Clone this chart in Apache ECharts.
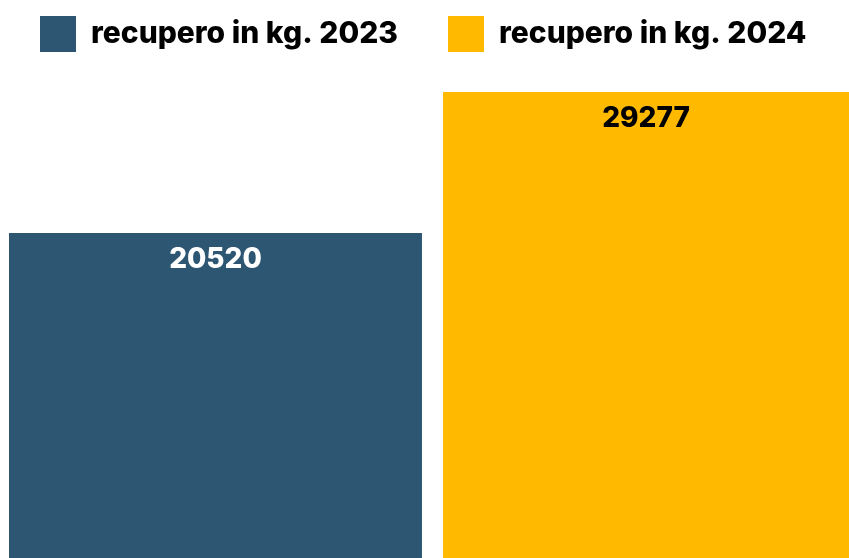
<!DOCTYPE html>
<html>
<head>
    <meta charset="utf-8">
    <title>recupero</title>
    <script src="https://cdn.jsdelivr.net/npm/echarts@6/dist/echarts.min.js"></script>
    <style type="text/css">
        html, body { margin: 0; padding: 0; background: #fff; overflow: hidden; }
        #main { width: 849px; height: 563px; }
    </style>
</head>
<body>
<div id="main"></div>
<script type="text/javascript">
    var categories = ['recupero'];
    var seriesNames = ['recupero in kg. 2023', 'recupero in kg. 2024'];
    var values2023 = [20520];
    var values2024 = [29277];

    var font = 'Inter, "Open Sans", sans-serif';

    var myChart = echarts.init(document.getElementById('main'));
    var option = {
        animation: false,
        legend: {
            top: 11,
            left: 35,
            itemWidth: 36,
            itemHeight: 36,
            itemGap: 50,
            icon: 'rect',
            selectedMode: false,
            textStyle: {
                fontFamily: font,
                fontWeight: 800,
                fontSize: 30,
                color: '#000',
                padding: [0, 0, 0, 10]
            },
            data: seriesNames
        },
        grid: { left: 9, right: 0, top: 92, bottom: 0 },
        xAxis: {
            type: 'category',
            data: categories,
            show: false
        },
        yAxis: {
            type: 'value',
            min: 0,
            max: 29277,
            show: false
        },
        series: [
            {
                name: seriesNames[0],
                type: 'bar',
                data: values2023,
                barWidth: 413,
                barGap: '5.1%',
                itemStyle: { color: '#2D5673' },
                label: {
                    show: true,
                    position: 'insideTop',
                    distance: 13,
                    color: '#fff',
                    fontFamily: font,
                    fontWeight: 800,
                    fontSize: 28
                }
            },
            {
                name: seriesNames[1],
                type: 'bar',
                data: values2024,
                barWidth: 406,
                itemStyle: { color: '#FFBA00' },
                label: {
                    show: true,
                    position: 'insideTop',
                    distance: 13,
                    color: '#000',
                    fontFamily: font,
                    fontWeight: 800,
                    fontSize: 28
                }
            }
        ]
    };
    myChart.setOption(option);
</script>
</body>
</html>
